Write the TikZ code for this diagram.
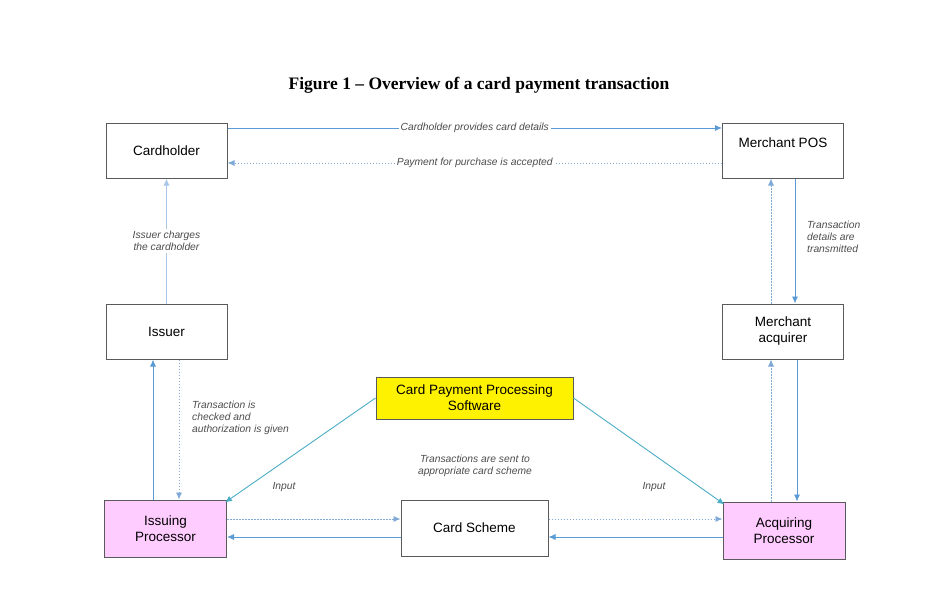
\documentclass[tikz,border=0pt]{standalone}
\usepackage{fontspec}
\setmainfont{Liberation Sans}
\newfontfamily\titlefont{Liberation Serif}
\usepackage{tikz}
\usetikzlibrary{arrows.meta,positioning,calc}
\definecolor{flowblue}{HTML}{5B9BD5}
\definecolor{dotblue}{HTML}{7FA9D6}
\definecolor{paleblue}{HTML}{A9C8E8}
\definecolor{swblue}{HTML}{4BACC6}
\definecolor{procpink}{HTML}{FFCCFF}
\definecolor{boxgray}{HTML}{5A5A5A}
\tikzset{
  pay/party/.style={draw=boxgray, line width=1pt, fill=white, minimum width=121pt, minimum height=55pt, align=center, font=\fontsize{13.5}{16}\selectfont},
  pay/proc/.style={pay/party, fill=procpink, minimum width=122pt, minimum height=57pt},
  pay/soft/.style={pay/party, fill=yellow, minimum width=197pt, minimum height=42pt},
  pay/flow/.style={flowblue, line width=0.9pt, -{Latex[length=7pt,width=6pt]}},
  pay/back/.style={pay/flow, dotblue, dash pattern=on 1.5pt off 1.5pt},
  pay/lbl/.style={font=\fontsize{10.3}{12}\selectfont\itshape, text=black!70, align=center, inner sep=2pt},
  pay/onlbl/.style={pay/lbl, fill=white}
}

\begin{document}
\begin{tikzpicture}[x=1pt, y=-1pt]
  \useasboundingbox (0,0) rectangle (930,589);
  \node[font=\titlefont\bfseries\fontsize{17.5}{20}\selectfont] (title) at (479,85) {Figure 1 \textendash{} Overview of a card payment transaction};
  % parties
  \node[pay/party] (card) at (166.5,150.5) {Cardholder};
  \node[pay/party] (pos) at (783,150.5) {Merchant POS\\\phantom{x}};
  \node[pay/party] (issuer) at (166.5,331.5) {Issuer};
  \node[pay/party] (macq) at (783,331.5) {Merchant\\acquirer};
  \node[pay/soft] (soft) at (474.5,398) {Card Payment Processing\\Software};
  \node[pay/proc] (iproc) at (165.5,528.5) {Issuing\\Processor};
  \node[pay/party, minimum width=147pt, minimum height=56pt] (scheme) at (474.5,528) {Card Scheme};
  \node[pay/proc] (aproc) at (784,530.5) {Acquiring\\Processor};
  % top
  \draw[pay/flow] ([yshift=22.5pt]card.east) -- node[pay/onlbl] {Cardholder provides card details} ([yshift=22.5pt]pos.west);
  \draw[pay/back] ([yshift=-12.5pt]pos.west) -- node[pay/onlbl] {Payment for purchase is accepted} ([yshift=-12.5pt]card.west -| card.east);
  % left column
  \draw[pay/flow, paleblue] (issuer.north) -- node[pay/onlbl] {Issuer charges\\the cardholder} (card.south);
  \draw[pay/flow] ([xshift=-12.5pt]iproc.north) -- ([xshift=-13.5pt]issuer.south);
  \draw[pay/back] ([xshift=12.5pt]issuer.south) -- ([xshift=13.5pt]iproc.north);
  \node[pay/lbl, align=left, anchor=west] (checked) at (190,418) {Transaction is\\checked and\\authorization is given};
  % right column
  \draw[pay/flow] ([xshift=12pt]pos.south) -- ([xshift=12pt]macq.north);
  \draw[pay/back] ([xshift=-12pt]macq.north) -- ([xshift=-12pt]pos.south);
  \node[pay/lbl, align=left, anchor=west] (sent) at (805,237) {Transaction\\details are\\transmitted};
  \draw[pay/flow] ([xshift=14pt]macq.south) -- ([xshift=13pt]aproc.north);
  \draw[pay/back] ([xshift=-13pt]aproc.north) -- ([xshift=-12pt]macq.south);
  % bottom row
  \draw[pay/back] ([yshift=9.5pt]iproc.east) -- ([yshift=9pt]scheme.west);
  \draw[pay/flow] ([yshift=-9pt]scheme.west) -- ([yshift=-8.5pt]iproc.east);
  \draw[pay/back] ([yshift=9pt]scheme.east) -- ([yshift=11.5pt]aproc.west);
  \draw[pay/flow] ([yshift=-6.5pt]aproc.west) -- ([yshift=-9pt]scheme.east);
  \node[pay/lbl] (toscheme) at (475,466) {Transactions are sent to\\appropriate card scheme};
  % software inputs
  \draw[pay/flow, swblue] (soft.west) -- ([shift={(-2pt,-3pt)}]iproc.north east);
  \draw[pay/flow, swblue] (soft.east) -- ([shift={(2pt,-3pt)}]aproc.north west);
  \node[pay/lbl] (inleft) at (284,487) {Input};
  \node[pay/lbl] (inright) at (654,487) {Input};
\end{tikzpicture}
\end{document}
